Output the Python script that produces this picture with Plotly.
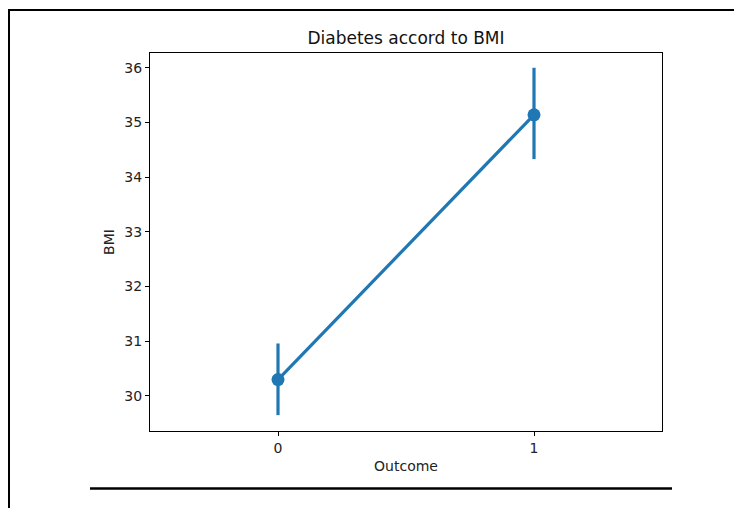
import plotly.graph_objects as go

outcome = [0, 1]
bmi_mean = [30.30, 35.14]
ci_low = [29.65, 34.33]
ci_high = [30.96, 36.00]

W, H = 742, 508
OFF = 8  # page body margin
L, R, T, B = 150 - OFF, 662 - OFF, 53 - OFF, 431 - OFF

def px(x):
    return (x - OFF - L) / (R - L)

def py(y):
    return (B - (y - OFF)) / (B - T)

blue = "#1f77b4"
fig = go.Figure()
fig.add_trace(go.Scatter(
    x=outcome, y=bmi_mean, mode="lines+markers",
    line=dict(color=blue, width=3.2),
    marker=dict(color=blue, size=13),
    error_y=dict(type="data", symmetric=False,
                 array=[h - m for h, m in zip(ci_high, bmi_mean)],
                 arrayminus=[m - l for m, l in zip(bmi_mean, ci_low)],
                 color=blue, thickness=3.2, width=0),
    showlegend=False,
))

axis_common = dict(showline=True, linecolor="black", linewidth=1, mirror=True,
                   ticks="outside", ticklen=4, tickcolor="black", showgrid=False,
                   zeroline=False, tickfont=dict(size=14, color="#222"))
fig.update_xaxes(range=[-0.5, 1.5], tickvals=outcome, ticktext=["0", "1"],
                 title=dict(text="Outcome", font=dict(size=14, color="#222"), standoff=6),
                 **axis_common)
fig.update_yaxes(range=[29.36, 36.27], tickvals=[30, 31, 32, 33, 34, 35, 36],
                 title=dict(text="BMI", font=dict(size=14, color="#222"), standoff=6),
                 **axis_common)

shapes = [
    dict(type="line", xref="paper", yref="paper", x0=px(9), x1=px(760), y0=py(10), y1=py(10),
         line=dict(color="black", width=2)),
    dict(type="line", xref="paper", yref="paper", x0=px(9), x1=px(9), y0=py(9), y1=py(530),
         line=dict(color="black", width=2)),
    dict(type="line", xref="paper", yref="paper", x0=px(90), x1=px(672), y0=py(488.5), y1=py(488.5),
         line=dict(color="black", width=2.5)),
]

fig.update_layout(
    width=W, height=H,
    margin=dict(l=L, r=W - R, t=T, b=H - B, pad=0),
    paper_bgcolor="white", plot_bgcolor="white",
    font=dict(family="DejaVu Sans", color="#222"),
    title=dict(text="Diabetes accord to BMI", x=(L + R) / 2 / W, xanchor="center",
               y=1 - (38 - OFF) / H, yanchor="middle", font=dict(size=17, color="#111")),
    shapes=shapes,
)
fig.write_html("out.html")
